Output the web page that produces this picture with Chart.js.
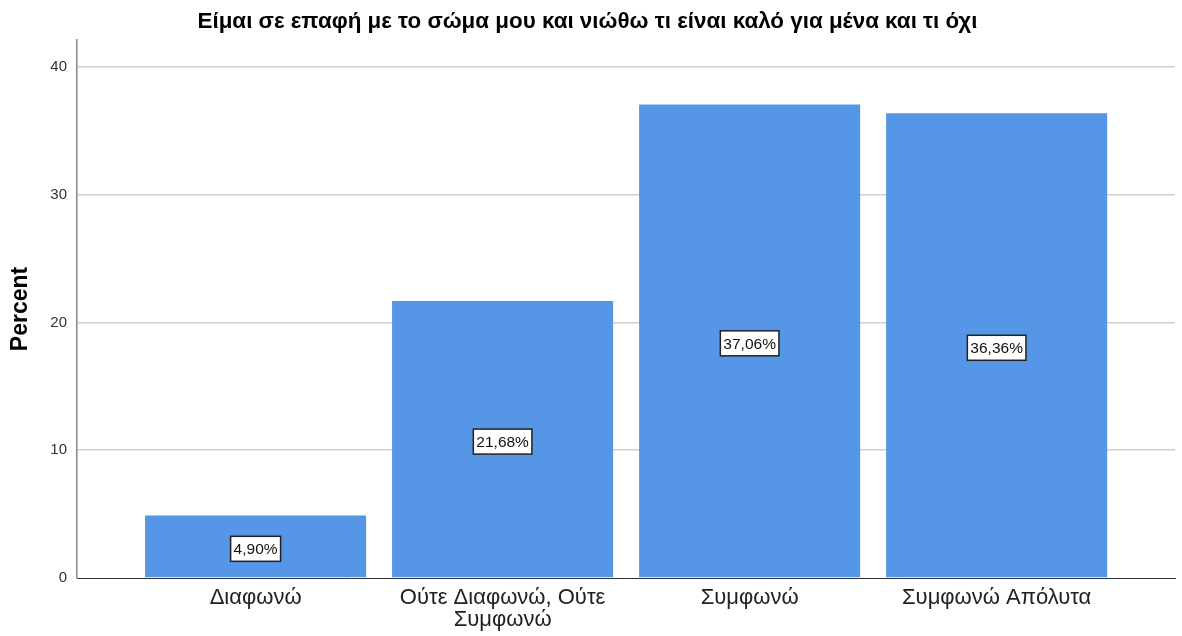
<!DOCTYPE html>
<html>
<head>
<meta charset="utf-8">
<script src="https://cdn.jsdelivr.net/npm/chart.js@4.4.1/dist/chart.umd.min.js"></script>
<style>
html,body{margin:0;padding:0;background:#fff;}
#wrap{width:1182px;height:636px;position:relative;}
</style>
</head>
<body>
<div id="wrap"><canvas id="c"></canvas></div>
<script>
const titleText = "Είμαι σε επαφή με το σώμα μου και νιώθω τι είναι καλό για μένα και τι όχι";
const categories = [["Διαφωνώ"], ["Ούτε Διαφωνώ, Ούτε", "Συμφωνώ"], ["Συμφωνώ"], ["Συμφωνώ Απόλυτα"]];
const percentValues = [4.90, 21.68, 37.06, 36.36];
const yTicks = [0, 10, 20, 30, 40];
const yAxisTitle = "Percent";

const barData = percentValues.map((v, i) => ({x: i, y: v}));
const FONT = '"Liberation Sans", Arial, sans-serif';

const labelPlugin = {
  id: 'boxLabels',
  afterDatasetsDraw(chart) {
    const ctx = chart.ctx;
    const meta = chart.getDatasetMeta(0);
    ctx.save();
    ctx.font = '15.5px ' + FONT;
    ctx.textAlign = 'center';
    ctx.textBaseline = 'middle';
    meta.data.forEach((el, i) => {
      const txt = percentValues[i].toFixed(2).replace('.', ',') + '%';
      const cx = el.x;
      const cy = (el.y + el.base) / 2 + 2.5;
      const w = ctx.measureText(txt).width + 6;
      const h = 25;
      ctx.fillStyle = '#ffffff';
      ctx.fillRect(cx - w / 2, cy - h / 2, w, h);
      ctx.strokeStyle = '#222';
      ctx.lineWidth = 1.5;
      ctx.strokeRect(cx - w / 2, cy - h / 2, w, h);
      ctx.fillStyle = '#111';
      ctx.fillText(txt, cx, cy + 1);
    });
    ctx.restore();
  }
};

new Chart(document.getElementById('c'), {
  type: 'bar',
  data: {
    datasets: [{
      data: barData,
      backgroundColor: '#5596e6',
      borderWidth: 0,
      barPercentage: 0.895,
      categoryPercentage: 1.0
    }]
  },
  options: {
    responsive: true,
    maintainAspectRatio: false,
    animation: false,
    layout: {padding: {left: 0, right: 7, top: 0, bottom: 0}},
    plugins: {
      legend: {display: false},
      tooltip: {enabled: false},
      title: {
        display: true,
        text: titleText,
        color: '#000',
        font: {family: FONT, size: 22.4, weight: 'bold'},
        padding: {top: 8, bottom: 5.1}
      }
    },
    scales: {
      x: {
        type: 'linear',
        offset: false,
        min: -0.723,
        max: 3.722,
        afterBuildTicks: (axis) => { axis.ticks = categories.map((_, i) => ({value: i})); },
        afterFit: (scale) => { scale.height = 58; },
        grid: {display: false, drawTicks: false},
        border: {display: true, color: '#333', width: 1},
        ticks: {
          autoSkip: false,
          maxRotation: 0,
          padding: 9,
          color: '#222',
          font: {family: FONT, size: 22, lineHeight: 1.0},
          callback: (v) => categories[v] || ''
        }
      },
      y: {
        min: 0,
        max: 42.1,
        afterBuildTicks: (axis) => { axis.ticks = yTicks.map(v => ({value: v})); },
        afterFit: (scale) => { scale.width = 77; },
        grid: {color: (c) => c.tick.value === 0 ? 'rgba(0,0,0,0)' : '#d0d0d0', lineWidth: 1.5, drawTicks: false},
        border: {display: true, color: '#888', width: 1.5},
        ticks: {
          padding: 10,
          color: '#333',
          font: {family: FONT, size: 15}
        },
        title: {
          display: true,
          text: yAxisTitle,
          color: '#000',
          font: {family: FONT, size: 23, weight: 'bold'},
          padding: {top: 7, bottom: 0}
        }
      }
    }
  },
  plugins: [labelPlugin]
});
</script>
</body>
</html>
